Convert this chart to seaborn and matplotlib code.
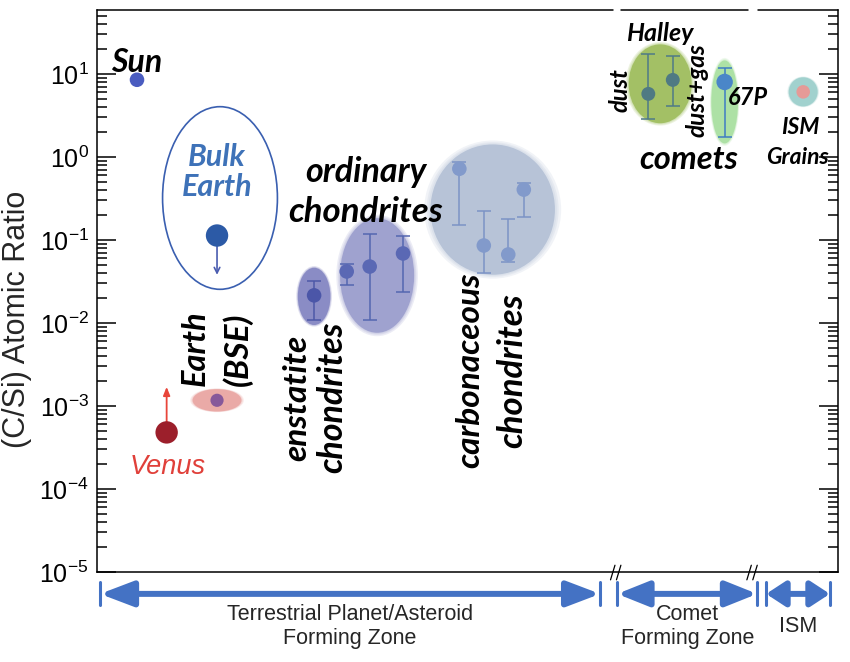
import numpy as np
import pandas as pd
import matplotlib
matplotlib.use('Agg')
import matplotlib.pyplot as plt
import seaborn as sns
from matplotlib.patches import Ellipse

sns.set_style('ticks')
plt.rcParams['font.family'] = ['Liberation Sans', 'DejaVu Sans']
plt.rcParams['mathtext.fontset'] = 'custom'
plt.rcParams['mathtext.rm'] = 'Liberation Sans'
plt.rcParams['mathtext.it'] = 'Liberation Sans:italic'

# --- single objects (x = position along the zone axis, y = C/Si atomic ratio)
sun_x, sun_y = [5.4], [8.5]
earth_x, earth_y, earth_lim = [16.2], [0.113], [0.038]
venus_x, venus_y, venus_lim = [9.4], [4.8e-4], [1.7e-3]
bse_x, bse_y = [16.2], [1.17e-3]
ism_x, ism_y = [95.3], [6.08]

# --- groups with error bars
ens_x = [29.3]
ens_y = [0.0215]
ens_lo = [0.011]
ens_hi = [0.0317]

ord_x = [33.7, 36.8, 41.3]
ord_y = [0.0417, 0.0478, 0.0687]
ord_lo = [0.029, 0.011, 0.0233]
ord_hi = [0.0506, 0.119, 0.11]

carb_x = [48.9, 52.2, 55.5, 57.6]
carb_y = [0.72, 0.0857, 0.0668, 0.404]
carb_lo = [0.153, 0.0405, 0.0537, 0.191]
carb_hi = [0.875, 0.225, 0.181, 0.49]

halley_x = [74.4, 77.7]
halley_y = [5.75, 8.47]
halley_lo = [2.88, 4.12]
halley_hi = [17.4, 16.4]

p67_x = [84.7]
p67_y = [8.0]
p67_lo = [1.75]
p67_hi = [11.8]

fig = plt.figure(figsize=(8.5, 6.62), dpi=100)
ax = fig.add_axes([0.1141, 0.1360, 0.8718, 0.8489])
ax.set_yscale('log')
ax.set_xlim(0, 100)
ax.set_ylim(1e-5, 10 ** 1.77)

# shaded regions, defined in (x, log10 y) space, with a soft rim
def blob(cx, cy, w, h, color, alpha=0.85, soft=True):
    tr = ax.transLimits + ax.transAxes
    if soft:
        for k in (1.10, 1.06, 1.03):
            ax.add_patch(Ellipse((cx, np.log10(cy)), w * k, h * (1 + (k - 1) * 0.6),
                                 transform=tr, facecolor=color, edgecolor='none',
                                 alpha=0.18, zorder=1))
    ax.add_patch(Ellipse((cx, np.log10(cy)), w, h, transform=tr, facecolor=color,
                         edgecolor='none', alpha=alpha, zorder=1))

ax.add_patch(Ellipse((16.6, np.log10(0.32)), 15.5, 2.2, transform=ax.transLimits + ax.transAxes,
                     facecolor='none', edgecolor='#3a5fb0', lw=1.2, zorder=1))
blob(16.2, 1.17e-3, 6.6, 0.27, '#e9a3a0')
blob(29.3, 0.0209, 4.4, 0.69, '#8082c0')
blob(37.8, 0.0373, 10.0, 1.38, '#979acb')
blob(53.4, 0.232, 16.8, 1.57, '#b3c0d5', alpha=0.9)
blob(76.0, 7.6, 8.5, 0.95, '#9ebd5c', alpha=0.9)
blob(84.7, 4.6, 3.6, 1.0, '#a9e0a0', alpha=0.9)
blob(95.3, 6.08, 3.9, 0.35, '#9ccfcc', alpha=0.9)

def errs(y, lo, hi):
    y, lo, hi = np.array(y), np.array(lo), np.array(hi)
    return [y - lo, hi - y]

# error bars
for xs, ys, lo, hi, c in [(ens_x, ens_y, ens_lo, ens_hi, '#4d58a8'),
                          (ord_x, ord_y, ord_lo, ord_hi, '#5466b0'),
                          (carb_x, carb_y, carb_lo, carb_hi, '#7b93c6'),
                          (halley_x, halley_y, halley_lo, halley_hi, '#4f7a88'),
                          (p67_x, p67_y, p67_lo, p67_hi, '#3f7cc4')]:
    ax.errorbar(xs, ys, yerr=errs(ys, lo, hi), fmt='none', ecolor=c,
                elinewidth=1.1, capsize=5, capthick=1.1, zorder=2)

# points
pts = [(sun_x, sun_y, '#4a5cc0', 110),
       (earth_x, earth_y, '#2c5aa6', 260),
       (venus_x, venus_y, '#9c1f2b', 260),
       (bse_x, bse_y, '#87589a', 90),
       (ens_x, ens_y, '#4b56a8', 110),
       (ord_x, ord_y, '#5a68b4', 110),
       (carb_x, carb_y, '#829acb', 110),
       (halley_x, halley_y, '#4f7a83', 100),
       (p67_x, p67_y, '#4a86c8', 140),
       (ism_x, ism_y, '#e59a97', 95)]
for xs, ys, c, s in pts:
    sns.scatterplot(x=xs, y=ys, color=c, s=s, edgecolor='none', ax=ax, zorder=3, legend=False)

# limits: Bulk Earth upper limit, Venus lower limit
ax.annotate('', xy=(earth_x[0], earth_lim[0]), xytext=(earth_x[0], earth_y[0]),
            arrowprops=dict(arrowstyle='->', color='#4a5cb0', lw=1.2, shrinkA=0, shrinkB=0), zorder=2)
ax.annotate('', xy=(venus_x[0], venus_lim[0]), xytext=(venus_x[0], venus_y[0]),
            arrowprops=dict(arrowstyle='-|>,head_length=0.5,head_width=0.2', color='#e8453a',
                            lw=1.3, shrinkA=0, shrinkB=0), zorder=2)

# labels
lab = dict(family=['Lato', 'DejaVu Sans'], fontweight='bold', fontstyle='italic',
           ha='center', va='center', color='black')
ax.text(5.4, 13.9, 'Sun', fontsize=23, **lab)
ax.text(16.2, 0.66, 'Bulk\nEarth', fontsize=22, linespacing=1.1, **{**lab, 'color': '#3e72b8'})
ax.text(9.6, 1.84e-4, 'Venus', fontsize=19.5, family=['Liberation Sans', 'DejaVu Sans'],
        fontstyle='italic', ha='center', va='center', color='#e0403a')
ax.text(13.2, 4.95e-3, 'Earth', fontsize=23.5, rotation=90, **lab)
ax.text(19.0, 4.8e-3, '(BSE)', fontsize=24, rotation=90, **lab)
ax.text(27.0, 1.24e-3, 'enstatite', fontsize=24, rotation=90, **lab)
ax.text(31.8, 1.28e-3, 'chondrites', fontsize=24.5, rotation=90, **lab)
ax.text(36.3, 0.66, 'ordinary', fontsize=24.5, **lab)
ax.text(36.2, 0.219, 'chondrites', fontsize=25, **lab)
ax.text(50.3, 2.7e-3, 'carbonaceous', fontsize=24, rotation=90, **lab)
ax.text(56.0, 2.7e-3, 'chondrites', fontsize=25, rotation=90, **lab)
ax.text(76.0, 31, 'Halley', fontsize=18, **lab)
ax.text(70.6, 6.4, 'dust', fontsize=17, rotation=90, **lab)
ax.text(81.0, 6.4, 'dust+gas', fontsize=17.5, rotation=90, **lab)
ax.text(87.9, 5.2, '67P', fontsize=17, **lab)
ax.text(79.9, 0.925, 'comets', fontsize=23.5, **lab)
ax.text(94.9, 2.24, 'ISM', fontsize=16.5, **lab)
ax.text(94.5, 0.98, 'Grains', fontsize=16.5, **lab)

# axes styling
ax.set_xticks([])
ax.set_xlabel('')
ax.tick_params(axis='y', which='both', direction='in', left=True, right=True,
               labelsize=18, width=1.1, colors='black')
ax.tick_params(axis='y', which='major', length=13.5, pad=6)
ax.tick_params(axis='y', which='minor', length=7)
ax.set_ylabel('(C/Si) Atomic Ratio', fontsize=22)
ax.yaxis.set_label_coords(-0.088, 0.449)
for s in ['left', 'right', 'bottom']:
    ax.spines[s].set_linewidth(1.1)
    ax.spines[s].set_color('black')
ax.spines['top'].set_visible(False)

# broken top frame and break marks on the bottom
for a, b in [(0.0, 0.696), (0.707, 0.879), (0.892, 1.0)]:
    ax.plot([a, b], [1, 1], transform=ax.transAxes, color='black', lw=1.1, clip_on=False)
for bx in [0.700, 0.884]:
    for dx in [-0.004, 0.004]:
        ax.plot([bx + dx - 0.003, bx + dx + 0.003], [-0.014, 0.012], transform=ax.transAxes,
                color='black', lw=0.9, clip_on=False)

# formation zones below the axis
zone_c = '#4472c4'
zones = [(0.4, 67.9, 'Terrestrial Planet/Asteroid\nForming Zone', 1.0),
         (70.2, 89.1, 'Comet\nForming Zone', 0.95),
         (90.3, 98.9, 'ISM', 0.58)]
trans = ax.get_xaxis_transform()
for x0, x1, txt, hl in zones:
    ax.annotate('', xy=(x1, -0.039), xytext=(x0, -0.039), xycoords=trans, textcoords=trans,
                arrowprops=dict(arrowstyle=f'<|-|>,head_length={hl},head_width=0.38', color=zone_c,
                                lw=4.3, shrinkA=0, shrinkB=0, mutation_scale=20), annotation_clip=False)
    for xe in (x0, x1):
        ax.plot([xe, xe], [-0.018, -0.059], transform=trans, color=zone_c, lw=2.2, clip_on=False)
    ax.text((x0 + x1) / 2, -0.097, txt, transform=trans, ha='center', va='center',
            fontsize=15.5, family=['Liberation Sans', 'DejaVu Sans'], linespacing=1.2)

fig.savefig('out.png', dpi=100)
